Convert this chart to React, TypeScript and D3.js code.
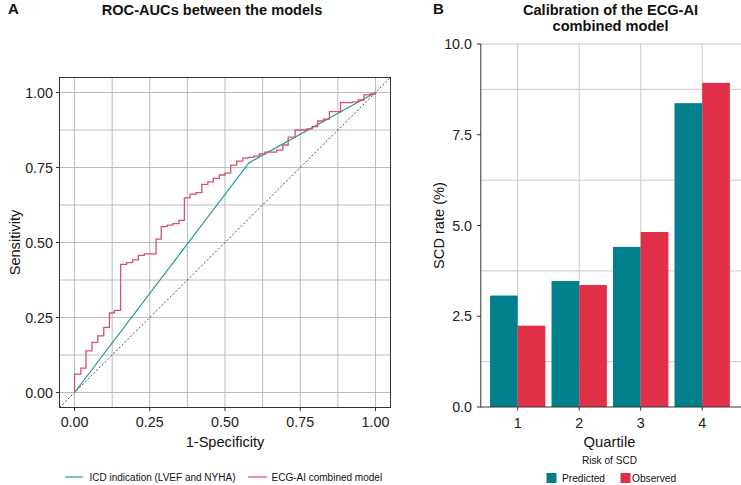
import React from "react";
import * as d3 from "d3";

// ---- Panel A data (ROC curves) ----
const ecgFpr = [0, 0, 0.021, 0.038, 0.058, 0.077, 0.097, 0.116, 0.132, 0.153, 0.173, 0.193, 0.212, 0.232, 0.271, 0.288, 0.308, 0.327, 0.347, 0.365, 0.384, 0.404, 0.423, 0.443, 0.461, 0.481, 0.5, 0.519, 0.539, 0.559, 0.577, 0.596, 0.614, 0.633, 0.672, 0.692, 0.71, 0.733, 0.771, 0.79, 0.808, 0.827, 0.847, 0.884, 0.923, 0.943, 0.962, 0.982, 1];
const ecgTpr = [0, 0.061, 0.081, 0.139, 0.167, 0.189, 0.217, 0.265, 0.274, 0.427, 0.433, 0.442, 0.457, 0.462, 0.511, 0.553, 0.558, 0.563, 0.574, 0.649, 0.661, 0.666, 0.694, 0.702, 0.714, 0.725, 0.731, 0.758, 0.771, 0.781, 0.784, 0.788, 0.795, 0.801, 0.808, 0.825, 0.851, 0.875, 0.879, 0.886, 0.905, 0.911, 0.936, 0.966, 0.969, 0.975, 0.992, 0.995, 1];
const icdFpr = [0, 0.58, 1];
const icdTpr = [0, 0.766, 1];
const rocTicks = [0, 0.25, 0.5, 0.75, 1];
const rocTickLabels = ["0.00", "0.25", "0.50", "0.75", "1.00"];
const rocGrid = [0, 0.125, 0.25, 0.375, 0.5, 0.625, 0.75, 0.875, 1];
const rocLegend = ["ICD indication (LVEF and NYHA)", "ECG-AI combined model"];

// ---- Panel B data (calibration) ----
const quartiles = ["1", "2", "3", "4"];
const predicted = [3.07, 3.47, 4.41, 8.37];
const observed = [2.24, 3.36, 4.82, 8.93];
const calTicks = [0, 2.5, 5, 7.5, 10];
const calTickLabels = ["0.0", "2.5", "5.0", "7.5", "10.0"];
const calMinorGrid = [1.25, 3.75, 6.25, 8.75, 10];
const calLegend = ["Predicted", "Observed"];

const TEAL_LINE = "#1f9a9c";
const RED_LINE = "#d9506c";
const TEAL_BAR = "#00808d";
const RED_BAR = "#e02f48";
const FONT = "'Liberation Sans', Arial, Helvetica, sans-serif";
const GRID = "#b4b4b4";

export default function App() {
  // Panel A scales
  const xA = d3.scaleLinear().domain([-0.05, 1.05]).range([59.5, 390.5]);
  const yA = d3.scaleLinear().domain([-0.05, 1.05]).range([407.5, 77.5]);
  const stepLine = d3
    .line<number>()
    .x((i) => xA(ecgFpr[i]))
    .y((i) => yA(ecgTpr[i]))
    .curve(d3.curveStepAfter);
  const straight = d3
    .line<number>()
    .x((i) => xA(icdFpr[i]))
    .y((i) => yA(icdTpr[i]));

  // Panel B scales
  const xB = d3.scaleLinear().domain([0.4, 4.6]).range([480.8, 739.1]);
  const yB = d3.scaleLinear().domain([0, 10]).range([407, 44]);
  const barW = xB(1.45) - xB(1);

  return (
    <svg
      width={741}
      height={485}
      style={{ position: "absolute", left: 0, top: 0, background: "#fff" }}
      fontFamily={FONT}
    >
      <rect x={0} y={0} width={741} height={485} fill="#fff" />
      {/* ================= Panel A ================= */}
      <text x={8} y={14} fontSize={15} fontWeight="bold" fill="#111">A</text>
      <text x={212} y={14.5} fontSize={14.6} fontWeight="bold" textAnchor="middle" fill="#111">
        ROC-AUCs between the models
      </text>
      {rocGrid.map((g) => (
        <g key={"ga" + g}>
          <line x1={xA(g)} x2={xA(g)} y1={yA(-0.05)} y2={yA(1.05)} stroke={GRID} strokeWidth={0.9} />
          <line x1={xA(-0.05)} x2={xA(1.05)} y1={yA(g)} y2={yA(g)} stroke={GRID} strokeWidth={0.9} />
        </g>
      ))}
      <line
        x1={xA(-0.05)}
        y1={yA(-0.05)}
        x2={xA(1.05)}
        y2={yA(1.05)}
        stroke="#333"
        strokeWidth={0.9}
        strokeDasharray="2,2"
      />
      <path d={straight(icdFpr.map((_, i) => i)) || ""} fill="none" stroke={TEAL_LINE} strokeWidth={1.2} />
      <path d={stepLine(ecgFpr.map((_, i) => i)) || ""} fill="none" stroke={RED_LINE} strokeWidth={1.3} />
      <rect
        x={xA(-0.05)}
        y={yA(1.05)}
        width={xA(1.05) - xA(-0.05)}
        height={yA(-0.05) - yA(1.05)}
        fill="none"
        stroke="#333"
        strokeWidth={1}
      />
      {rocTicks.map((t, i) => (
        <g key={"ta" + t}>
          <line x1={xA(t)} x2={xA(t)} y1={407.5} y2={411} stroke="#333" strokeWidth={1} />
          <text x={xA(t)} y={427} fontSize={14.3} textAnchor="middle" fill="#222">
            {rocTickLabels[i]}
          </text>
          <line x1={56} x2={59.5} y1={yA(t)} y2={yA(t)} stroke="#333" strokeWidth={1} />
          <text x={53} y={yA(t)} dy="0.35em" fontSize={14.3} textAnchor="end" fill="#222">
            {rocTickLabels[i]}
          </text>
        </g>
      ))}
      <text x={225} y={447} fontSize={14.6} textAnchor="middle" fill="#111">1-Specificity</text>
      <text
        transform={`translate(20,${yA(0.5)}) rotate(-90)`}
        fontSize={14.6}
        textAnchor="middle"
        fill="#111"
      >
        Sensitivity
      </text>
      {/* Legend A */}
      <line x1={65} x2={83} y1={477} y2={477} stroke={TEAL_LINE} strokeWidth={1.2} />
      <text x={89.5} y={477} dy="0.35em" fontSize={10} fill="#111">{rocLegend[0]}</text>
      <line x1={248} x2={267} y1={477} y2={477} stroke={RED_LINE} strokeWidth={1.2} />
      <text x={271.5} y={477} dy="0.35em" fontSize={10} fill="#111">{rocLegend[1]}</text>

      {/* ================= Panel B ================= */}
      <text x={433} y={14} fontSize={15} fontWeight="bold" fill="#111">B</text>
      <text x={610.5} y={14.5} fontSize={14.6} fontWeight="bold" textAnchor="middle" fill="#111">
        Calibration of the ECG-AI
      </text>
      <text x={610.5} y={31} fontSize={14.6} fontWeight="bold" textAnchor="middle" fill="#111">
        combined model
      </text>
      {calMinorGrid.map((g) => (
        <line key={"gb" + g} x1={xB(0.4)} x2={741} y1={yB(g)} y2={yB(g)} stroke="#c4c4c4" strokeWidth={0.9} />
      ))}
      {quartiles.map((q, i) => (
        <line key={"vb" + q} x1={xB(i + 1)} x2={xB(i + 1)} y1={yB(0)} y2={yB(10)} stroke="#c4c4c4" strokeWidth={0.9} />
      ))}
      {quartiles.map((q, i) => (
        <g key={"bar" + q}>
          <rect
            x={xB(i + 1) - barW}
            y={yB(predicted[i])}
            width={barW}
            height={yB(0) - yB(predicted[i])}
            fill={TEAL_BAR}
          />
          <rect
            x={xB(i + 1)}
            y={yB(observed[i])}
            width={barW}
            height={yB(0) - yB(observed[i])}
            fill={RED_BAR}
          />
        </g>
      ))}
      <line x1={xB(0.4)} x2={xB(0.4)} y1={yB(10)} y2={yB(0) + 0.5} stroke="#333" strokeWidth={1} />
      <line x1={xB(0.4)} x2={741} y1={yB(0)} y2={yB(0)} stroke="#333" strokeWidth={1} />
      {calTicks.map((t, i) => (
        <g key={"tb" + t}>
          <line x1={477} x2={xB(0.4)} y1={yB(t)} y2={yB(t)} stroke="#333" strokeWidth={1} />
          <text x={472} y={yB(t)} dy="0.35em" fontSize={14.3} textAnchor="end" fill="#222">
            {calTickLabels[i]}
          </text>
        </g>
      ))}
      {quartiles.map((q, i) => (
        <g key={"xb" + q}>
          <line x1={xB(i + 1)} x2={xB(i + 1)} y1={yB(0)} y2={yB(0) + 3.5} stroke="#333" strokeWidth={1} />
          <text x={xB(i + 1)} y={428} fontSize={14.3} textAnchor="middle" fill="#222">{q}</text>
        </g>
      ))}
      <text x={609.5} y={447} fontSize={14.8} textAnchor="middle" fill="#111">Quartile</text>
      <text x={609.5} y={463.5} fontSize={10.1} textAnchor="middle" fill="#111">Risk of SCD</text>
      <text
        transform={`translate(444,${yB(5)}) rotate(-90)`}
        fontSize={14.6}
        textAnchor="middle"
        fill="#111"
      >
        SCD rate (%)
      </text>
      {/* Legend B */}
      <rect x={546.5} y={473} width={10} height={10} fill={TEAL_BAR} />
      <text x={562} y={478} dy="0.35em" fontSize={10.2} fill="#111">{calLegend[0]}</text>
      <rect x={620.5} y={473} width={10} height={10} fill={RED_BAR} />
      <text x={632} y={478} dy="0.35em" fontSize={10.2} fill="#111">{calLegend[1]}</text>
    </svg>
  );
}
